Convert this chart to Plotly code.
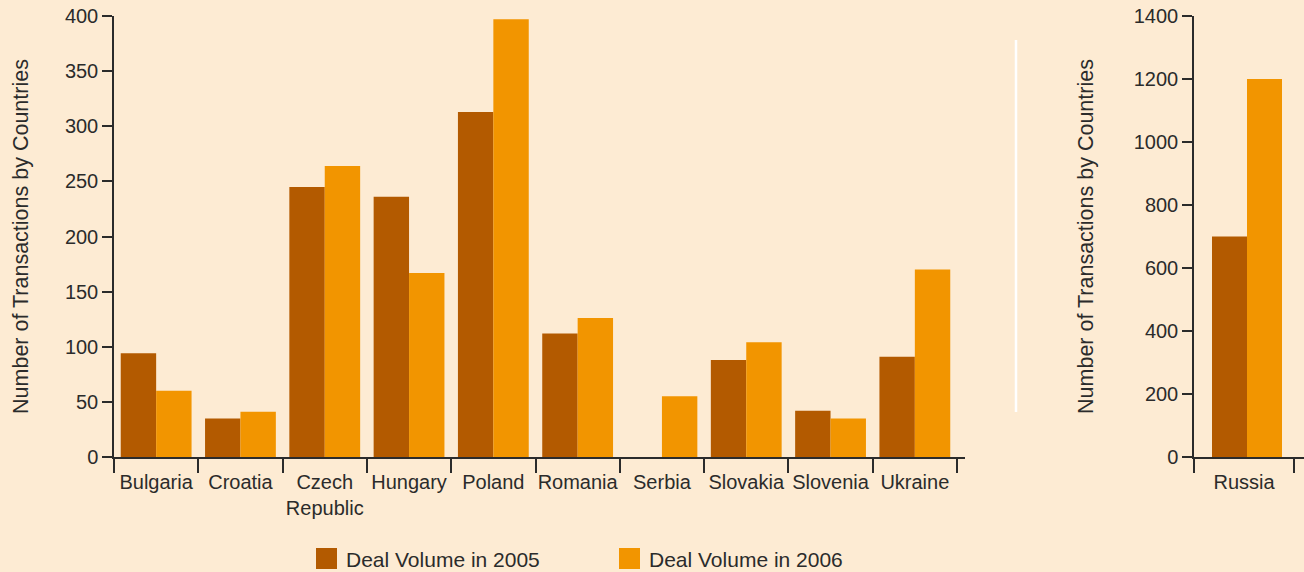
import plotly.graph_objects as go

# ---- data ----
countries = ["Bulgaria", "Croatia", "Czech<br>Republic", "Hungary", "Poland",
             "Romania", "Serbia", "Slovakia", "Slovenia", "Ukraine"]
vol_2005 = [94, 35, 245, 236, 313, 112, None, 88, 42, 91]
vol_2006 = [60, 41, 264, 167, 397, 126, 55, 104, 35, 170]
russia = ["Russia"]
russia_2005 = [700]
russia_2006 = [1200]
series_names = ["Deal Volume in 2005", "Deal Volume in 2006"]
left_ticks = [0, 50, 100, 150, 200, 250, 300, 350, 400]
right_ticks = [0, 200, 400, 600, 800, 1000, 1200, 1400]

# ---- style ----
W, H = 1304, 572
BG = "#fdebd3"
C05 = "#b35a00"
C06 = "#f29500"
TXT = "#2b2b2b"
FONT = "Liberation Sans, Arial, Helvetica, sans-serif"


def px(x):
    return x / W


def py(y):
    return 1 - y / H


fig = go.Figure()
bar_common = dict(marker_line_width=0, showlegend=False, hoverinfo="x+y")
fig.add_trace(go.Bar(x=countries, y=vol_2005, name=series_names[0], marker_color=C05,
                     width=0.42, offset=-0.42, xaxis="x", yaxis="y", **bar_common))
fig.add_trace(go.Bar(x=countries, y=vol_2006, name=series_names[1], marker_color=C06,
                     width=0.42, offset=0.0, xaxis="x", yaxis="y", **bar_common))
fig.add_trace(go.Bar(x=russia, y=russia_2005, name=series_names[0], marker_color=C05,
                     width=0.35, offset=-0.32, xaxis="x2", yaxis="y2", **bar_common))
fig.add_trace(go.Bar(x=russia, y=russia_2006, name=series_names[1], marker_color=C06,
                     width=0.35, offset=0.03, xaxis="x2", yaxis="y2", **bar_common))

axis_common = dict(showline=True, linecolor=TXT, linewidth=1.5, ticks="outside",
                   tickcolor=TXT, tickwidth=1.5, showgrid=False, zeroline=False,
                   automargin=False, tickangle=0,
                   tickfont=dict(size=20, color=TXT, family=FONT))

ydom = [py(457), py(16)]
ytitle = "Number of Transactions by Countries"

fig.update_layout(
    width=W, height=H, autosize=False,
    margin=dict(l=0, r=0, t=0, b=0, pad=0),
    paper_bgcolor=BG, plot_bgcolor=BG,
    font=dict(family=FONT, color=TXT),
    barmode="overlay",
    xaxis=dict(domain=[px(114), px(965)], type="category", categoryorder="array",
               categoryarray=countries, range=[-0.5, 9.595], tickson="boundaries",
               ticklen=14, ticklabelstandoff=6, anchor="y", **axis_common),
    yaxis=dict(domain=ydom, range=[0, 400], tickvals=left_ticks, ticklen=10,
               anchor="x",
               title=dict(text=ytitle, font=dict(size=21.5, color=TXT, family=FONT),
                          standoff=30),
               **axis_common),
    xaxis2=dict(domain=[px(1194), 1.0], type="category", range=[-0.5, 0.6],
                tickson="boundaries", ticklen=14, ticklabelstandoff=6, anchor="y2",
                **axis_common),
    yaxis2=dict(domain=ydom, range=[0, 1400], tickvals=right_ticks, ticklen=10,
                anchor="x2",
                title=dict(text=ytitle, font=dict(size=21.5, color=TXT, family=FONT),
                           standoff=34),
                **axis_common),
    showlegend=False,
)

# white divider line between panels
fig.add_shape(type="line", xref="paper", yref="paper", x0=px(1016), x1=px(1016),
              y0=py(40), y1=py(412), line=dict(color="white", width=2.5))

# custom legend (large square swatches)
legend_items = [(316, C05, series_names[0]), (619, C06, series_names[1])]
for x0, col, label in legend_items:
    fig.add_shape(type="rect", xref="paper", yref="paper", x0=px(x0), x1=px(x0 + 21),
                  y0=py(569), y1=py(548), fillcolor=col, line=dict(width=0))
    fig.add_annotation(xref="paper", yref="paper", x=px(x0 + 28), y=py(559),
                       text=label, showarrow=False, xanchor="left", yanchor="middle",
                       font=dict(size=21, color=TXT, family=FONT))

fig.write_html("out.html")
